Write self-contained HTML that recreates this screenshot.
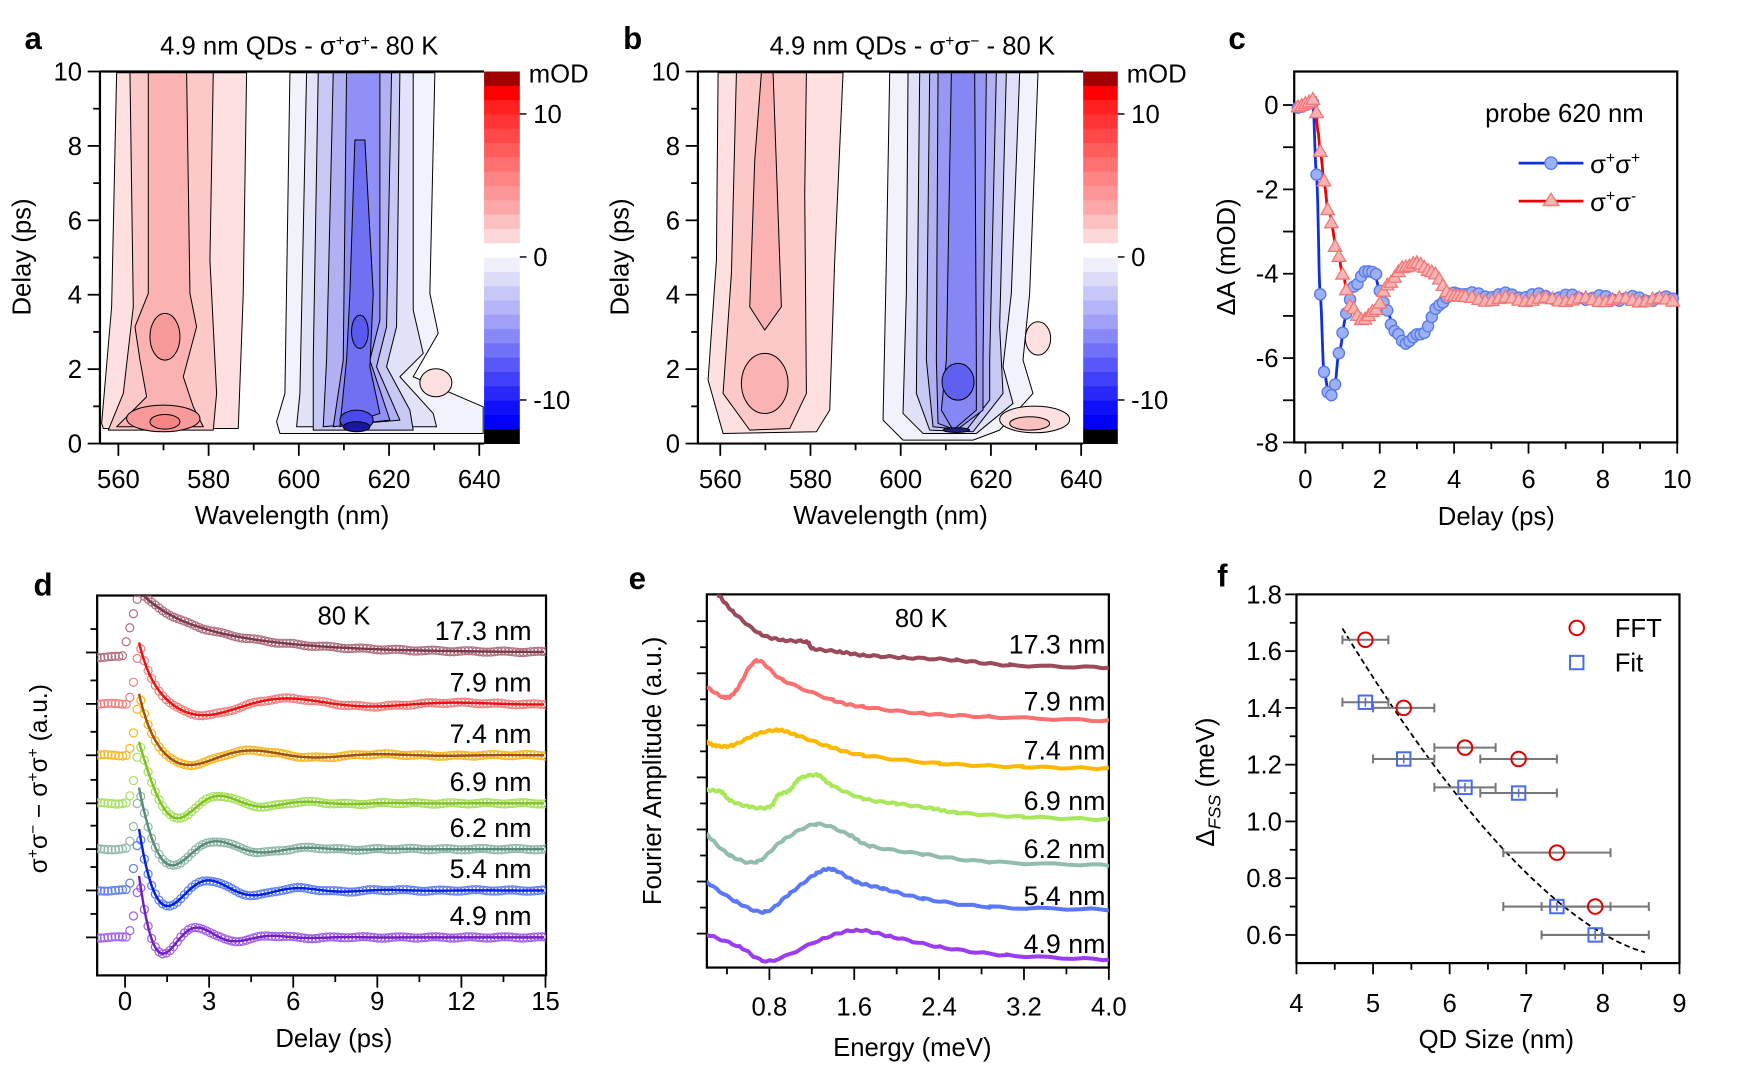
<!DOCTYPE html>
<html><head><meta charset="utf-8"><style>
html,body{margin:0;padding:0;background:#fff;}
svg{display:block;font-family:"Liberation Sans",Arial,sans-serif;}
</style></head><body>
<svg id="s" width="1742" height="1067" viewBox="0 0 1560 955" preserveAspectRatio="none" xmlns="http://www.w3.org/2000/svg">
<defs>
<clipPath id="ca"><rect x="89.5" y="64" width="344" height="333"/></clipPath>
<clipPath id="cb"><rect x="625" y="64" width="345" height="333"/></clipPath>
<clipPath id="cd"><rect x="87" y="533" width="402" height="340"/></clipPath>
<clipPath id="ce"><rect x="633" y="532" width="360" height="334"/></clipPath>
</defs>
<g id="root"></g>
</svg>
<script>
var out=[];
function P(s){out.push(s);}
var SC=0.29842;
function sh(d,f){return '<path d="'+d+'" fill="'+f+'" stroke="#000" stroke-width="3" stroke-linejoin="round"/>';}
function el(cx,cy,rx,ry,f){return '<ellipse cx="'+cx+'" cy="'+cy+'" rx="'+rx+'" ry="'+ry+'" fill="'+f+'" stroke="#000" stroke-width="3"/>';}
var A=[];
A.push(sh("M110,38 L500,38 L490,700 L475,1105 L70,1105 L65,1090 L95,740 Z","#fde0df"));
A.push(sh("M150,38 L400,38 L390,600 L410,1000 L400,1110 L85,1110 L130,1000 L160,740 Z","#fcc8c8"));
A.push(sh("M205,38 L320,38 L330,700 L350,800 L310,950 L340,1040 L370,1100 L110,1100 L200,1010 L180,900 L165,800 L205,700 Z","#fbb2b2"));
A.push(el(255,830,45,70,"#f99a9a"));
A.push(el(250,1075,110,40,"#f99a9a"));
A.push(el(255,1085,45,22,"#f58585"));
A.push(sh("M630,38 L1065,38 L1050,700 L1075,820 L1000,950 L1210,1040 L1210,1120 L600,1120 L590,1085 L615,1000 Z","#f2f2fc"));
A.push(sh("M680,38 L1000,38 L1000,750 L1030,880 L960,950 L1060,1060 L1070,1100 L650,1100 L660,1000 Z","#e2e2f8"));
A.push(sh("M715,38 L960,38 L950,800 L920,920 L990,1050 L1000,1110 L700,1110 L700,900 Z","#c8c8f4"));
A.push(sh("M760,38 L935,38 L920,800 L890,920 L960,1080 L730,1100 L740,900 Z","#b0b0f2"));
A.push(sh("M800,38 L900,38 L900,780 L870,900 L930,1080 L760,1100 L790,900 Z","#9090f6"));
A.push(sh("M825,240 L855,240 L880,700 L870,920 L900,1060 L780,1100 L800,900 L810,700 Z","#7070f2"));
A.push(el(840,815,25,50,"#5a5af0"));
A.push(el(830,1080,50,30,"#4a4ae8"));
A.push(el(830,1100,40,15,"#1818a0"));
A.push(el(1068,968,48,42,"#fde0df"));
P('<g clip-path="url(#ca)"><g transform="translate(71.62,53.72) scale('+SC+')">'+A.join('')+'</g></g>');
var B=[];
B.push(sh("M85,38 L460,38 L435,600 L420,1050 L380,1115 L100,1120 L55,960 L80,600 Z","#fde0df"));
B.push(sh("M140,38 L350,38 L345,400 L350,1000 L300,1105 L180,1110 L100,1000 L125,640 Z","#fcc8c8"));
B.push(sh("M215,38 L250,38 L270,600 L275,740 L225,810 L180,740 L195,300 Z","#fbb2b2"));
B.push(el(225,970,70,90,"#fbb2b2"));
B.push(sh("M600,38 L1045,38 L1020,700 L1000,900 L1030,1000 L930,1110 L850,1140 L640,1140 L580,1080 L590,600 Z","#f2f2fc"));
B.push(sh("M655,38 L990,38 L965,700 L940,920 L970,1030 L860,1120 L700,1120 L640,1060 L650,700 Z","#e0e0f8"));
B.push(sh("M690,38 L950,38 L930,800 L940,1000 L850,1115 L720,1110 L680,1000 Z","#c8c8f4"));
B.push(sh("M720,38 L920,38 L900,900 L900,1020 L830,1110 L730,1100 L710,900 Z","#b0b0f2"));
B.push(sh("M745,38 L890,38 L880,900 L880,1050 L800,1110 L745,1090 L740,900 Z","#9898f4"));
B.push(sh("M785,38 L855,38 L860,900 L860,1050 L790,1110 L755,1050 L770,900 Z","#8686f4"));
B.push(el(805,965,48,55,"#6060f0"));
B.push(el(800,1110,40,7,"#202080"));
B.push(el(1045,835,38,50,"#fde0df"));
B.push(el(1035,1078,105,40,"#fde0df"));
B.push(el(1020,1090,60,20,"#fbc0c0"));
P('<g clip-path="url(#cb)"><g transform="translate(617.7,53.72) scale('+SC+')">'+B.join('')+'</g></g>');

var cbc=["#a00000","#ff0000","#ff2020","#ff3535","#ff4848","#ff5c5c","#ff7070","#ff8484","#fc9696","#fca8a8","#fcc0c0","#fcd8d8","#ffffff","#f0f0fc","#dcdcf8","#c8c8f8","#b4b4f8","#a0a0f8","#8888f8","#7070f8","#5858f8","#4040f8","#2828f8","#1010f8","#0000f8","#000000"];
function cbar(x,w){
  var h=333/26;
  for(var i=0;i<26;i++)P('<rect x="'+x+'" y="'+(64+i*h)+'" width="'+w+'" height="'+(h+0.4)+'" fill="'+cbc[i]+'"/>');
  [[102,"10"],[230,"0"],[358,"-10"]].forEach(function(t){
    P('<line x1="'+(x+w)+'" y1="'+t[0]+'" x2="'+(x+w+6)+'" y2="'+t[0]+'" stroke="#000" stroke-width="1.3"/>');
    P('<text x="'+(x+w+12)+'" y="'+(t[0]+8)+'" font-size="23">'+t[1]+'</text>');
  });
  P('<text x="'+(x+w+8)+'" y="74" font-size="23">mOD</text>');
}
cbar(433.5,32);cbar(970,31);

function frame(x1,y1,x2,y2,lw){P('<rect x="'+x1+'" y="'+y1+'" width="'+(x2-x1)+'" height="'+(y2-y1)+'" fill="none" stroke="#000" stroke-width="'+(lw||2)+'"/>');}
function xt(x,y,len){P('<line x1="'+x+'" y1="'+y+'" x2="'+x+'" y2="'+(y+len)+'" stroke="#000" stroke-width="1.6"/>');}
function yt(x,y,len){P('<line x1="'+x+'" y1="'+y+'" x2="'+(x-len)+'" y2="'+y+'" stroke="#000" stroke-width="1.6"/>');}
function T(x,y,s,fs,anc,extra){P('<text x="'+x+'" y="'+y+'" font-size="'+fs+'" text-anchor="'+(anc||"start")+'" '+(extra||"")+'>'+s+'</text>');}

[[89.5,433.5,106,4.04,0],[625,970,645,4.04,1]].forEach(function(p){
  var L=p[0],R=p[1];
  P('<line x1="'+L+'" y1="64" x2="'+L+'" y2="397" stroke="#000" stroke-width="2"/>');
  P('<line x1="'+L+'" y1="397" x2="'+R+'" y2="397" stroke="#000" stroke-width="2"/>');
  P('<line x1="'+L+'" y1="64" x2="'+R+'" y2="64" stroke="#000" stroke-width="2"/>');
  for(var v=0;v<=10;v++){var y=397-v*33.3;yt(L,y,v%2==0?11:6);if(v%2==0)T(L-16,y+8,""+v,23,"end");}
  for(var w=550;w<=650;w+=10){var x=p[2]+(w-560)*p[3];if(x<L-1||x>R+1)continue;xt(x,397,(w%20==0)?11:6);if(w%20==0)T(x,437,""+w,23,"middle");}
  T((L+R)/2,469,"Wavelength (nm)",23,"middle");
  T(L-62,230,"Delay (ps)",23,"middle",'transform="rotate(-90 '+(L-62)+' 230)"');
});
T(22,44,"a",28,"start",'font-weight="bold"');
T(558,44,"b",28,"start",'font-weight="bold"');
T(268,49,'4.9 nm QDs - σ<tspan dy="-8" font-size="14">+</tspan><tspan dy="8">σ</tspan><tspan dy="-8" font-size="14">+</tspan><tspan dy="8">- 80 K</tspan>',23,"middle");
T(817,49,'4.9 nm QDs - σ<tspan dy="-8" font-size="14">+</tspan><tspan dy="8">σ</tspan><tspan dy="-8" font-size="14">−</tspan><tspan dy="8"> - 80 K</tspan>',23,"middle");

// Panel c
frame(1159,64,1502,396,2);
function cx(t){return 1169+t*33.3;} function cy(v){return 94+(-v)*37.75;}
for(var v=0;v>=-8;v--){var y=cy(v);yt(1159,y,10);if(v%2==0)T(1145,y+8,""+v,23,"end");}
for(var t=0;t<=10;t++){xt(cx(t),396,(t%2==0)?10:6);if(t%2==0)T(cx(t),437,""+t,23,"middle");}
T(1340,470,"Delay (ps)",23,"middle");
T(1106,230,"ΔA (mOD)",23,"middle",'transform="rotate(-90 1106 230)"');
T(1100,44,"c",28,"start",'font-weight="bold"');
T(1330,109,"probe 620 nm",23);
function interp(pts,t){for(var i=0;i<pts.length-1;i++){if(t<=pts[i+1][0]){var a=pts[i],b=pts[i+1];var f=(t-a[0])/(b[0]-a[0]);var g=(1-Math.cos(f*Math.PI))/2;return a[1]+(b[1]-a[1])*g;}}return pts[pts.length-1][1];}
var blue=[[-0.3,0],[0.2,0],[0.3,-1.7],[0.4,-4.5],[0.5,-6.3],[0.65,-6.9],[0.8,-6.6],[0.9,-5.9],[1.1,-5],[1.3,-4.3],[1.6,-3.9],[1.85,-4.0],[2.1,-4.7],[2.4,-5.3],[2.7,-5.7],[3.1,-5.4],[3.6,-4.8],[4.0,-4.4],[4.4,-4.5],[10,-4.6]];
var red=[[-0.3,0],[0.15,0.05],[0.27,0.15],[0.33,-0.6],[0.42,-1.2],[0.5,-1.8],[0.62,-2.5],[0.85,-3.4],[1.0,-4.0],[1.2,-4.8],[1.5,-5.1],[1.9,-4.8],[2.2,-4.3],[2.7,-3.8],[2.95,-3.7],[3.4,-4.0],[4.0,-4.5],[4.4,-4.6],[10,-4.62]];
function polyC(pts,col,w){var d=[];for(var t=-0.25;t<=10;t+=0.02){var v=interp(pts,t)+0.04*Math.sin(t*9.1);d.push(cx(t).toFixed(1)+","+cy(v).toFixed(1));}P('<polyline points="'+d.join(" ")+'" fill="none" stroke="'+col+'" stroke-width="'+w+'"/>');}
polyC(blue,"#1030e0",2.5);polyC(red,"#f00000",2.5);
var bt=[];for(var t=-0.2;t<0.3;t+=0.1)bt.push(t);for(var t=0.3;t<4.3;t+=0.1)bt.push(t);for(var t=4.3;t<=10;t+=0.18)bt.push(t);
bt.forEach(function(t){var v=interp(blue,t)+0.06*Math.sin(t*7.3);P('<circle cx="'+cx(t).toFixed(1)+'" cy="'+cy(v).toFixed(1)+'" r="5" fill="#9cb0f4" stroke="#5a78ec" stroke-width="1.2"/>');});
bt.forEach(function(t){var v=interp(red,t)+0.05*Math.sin(t*6.1);var x=cx(t),y=cy(v);P('<path d="M'+x.toFixed(1)+','+(y-6).toFixed(1)+' L'+(x+6).toFixed(1)+','+(y+4.5).toFixed(1)+' L'+(x-6).toFixed(1)+','+(y+4.5).toFixed(1)+' Z" fill="#f8b4b4" stroke="#f07878" stroke-width="1.2"/>');});
P('<line x1="1360" y1="146" x2="1418" y2="146" stroke="#1030e0" stroke-width="2.5"/><circle cx="1389" cy="146" r="5.5" fill="#9cb0f4" stroke="#5a78ec" stroke-width="1.2"/>');
P('<line x1="1360" y1="180" x2="1418" y2="180" stroke="#f00000" stroke-width="2.5"/><path d="M1389,173 L1396,184 L1382,184 Z" fill="#f8b4b4" stroke="#f07878" stroke-width="1.2"/>');
T(1424,155,'σ<tspan dy="-9" font-size="14">+</tspan><tspan dy="9">σ</tspan><tspan dy="-9" font-size="14">+</tspan>',23);
T(1424,189,'σ<tspan dy="-9" font-size="14">+</tspan><tspan dy="9">σ</tspan><tspan dy="-9" font-size="14">-</tspan>',23);

// Panel d
frame(87,533,489,873,2);
function dx(t){return 112+t*25.1;}
for(var t=-1.5;t<=15;t+=1.5){var x=dx(t);if(x<87)continue;var maj=(Math.abs(t%3)<0.01);xt(x,873,maj?11:6);if(maj)T(x,904,""+t,23,"middle");}
var dtr=[
 {b:584,mk:"#b07080",ln:"#7a3848",lab:"17.3 nm",type:1},
 {b:630,mk:"#f08080",ln:"#e81010",lab:"7.9 nm",tmin:3.0,T:6,A:10,tau:4},
 {b:676,mk:"#f8b820",ln:"#a05010",lab:"7.4 nm",tmin:2.4,T:4.6,A:9,tau:3},
 {b:719,mk:"#a8e060",ln:"#80c020",lab:"6.9 nm",tmin:1.95,T:3.1,A:14,tau:2},
 {b:760,mk:"#90b8a8",ln:"#5a8a78",lab:"6.2 nm",tmin:1.75,T:3.3,A:16,tau:1.9},
 {b:797,mk:"#6080f0",ln:"#0020e0",lab:"5.4 nm",tmin:1.5,T:3.2,A:18,tau:2.2},
 {b:839,mk:"#a060e8",ln:"#7020c0",lab:"4.9 nm",tmin:1.35,T:2.7,A:20,tau:1.5}];
function dsig(p,t){var t0=0.5,Pk=55;
  if(p.type==1){if(t<-0.1)return -4;if(t<t0)return -4+(Pk+4)*(t+0.1)/(t0+0.1);return Pk*(0.75*Math.exp(-(t-t0)/3.2)+0.25*Math.exp(-(t-t0)/1));}
  var osc=function(tt){return -p.A*Math.exp(-(tt-p.tmin)/p.tau)*Math.cos(2*Math.PI*(tt-p.tmin)/p.T);};
  if(t<0)return 0;if(t<t0)return Pk*(t/t0)*(t/t0);
  var D=Pk-osc(t0);return osc(t)+D*Math.exp(-(t-t0)/0.42);}
dtr.forEach(function(p,i){
  yt(87,p.b,10);yt(87,p.b-21,6);
  var pts=[],ms=[];
  for(var t=-1;t<=15;t+=0.13){var v=dsig(p,t);ms.push([dx(t),p.b-v+0.6*Math.sin(t*5+i)]);}
  for(var t=0.5;t<=15;t+=0.05){pts.push(dx(t).toFixed(1)+","+(p.b-dsig(p,t)).toFixed(1));}
  var g='<g clip-path="url(#cd)">';
  ms.forEach(function(m){g+='<circle cx="'+m[0].toFixed(1)+'" cy="'+m[1].toFixed(1)+'" r="3.6" fill="none" stroke="'+p.mk+'" stroke-width="1.1"/>';});
  g+='<polyline points="'+pts.join(" ")+'" fill="none" stroke="'+p.ln+'" stroke-width="2.2"/></g>';
  P(g);
  T(476,p.b-11,p.lab,24,"end");
});
T(308,559,"80 K",23,"middle");
T(299,937,"Delay (ps)",23,"middle");
T(30,533,"d",28,"start",'font-weight="bold"');
T(42,697,'σ<tspan dy="-8" font-size="14">+</tspan><tspan dy="8">σ</tspan><tspan dy="-8" font-size="14">−</tspan><tspan dy="8"> − σ</tspan><tspan dy="-8" font-size="14">+</tspan><tspan dy="8">σ</tspan><tspan dy="-8" font-size="14">+</tspan><tspan dy="8"> (a.u.)</tspan>',22,"middle",'transform="rotate(-90 42 697)"');

// Panel e
frame(633,532,993,866,2);
function ex(E){return 613+E*95;}
for(var E=0.4;E<=4.01;E+=0.4){var x=ex(E);var maj=Math.abs((E/0.8)-Math.round(E/0.8))<0.01;xt(x,866,maj?11:6);if(maj)T(x,909,E.toFixed(1),23,"middle");}
for(var k=0;k<13;k++){yt(633,556+k*23.3,k%2==0?9:6);}
function cz(p){return [(690+p[0]/3)/1.117,(580+p[1]/3)/1.117];}
var ecur=[
 {c:"#9a4a5a",lab:"17.3 nm",ly:585,p:[[85,42],[130,95],[210,160],[280,180],[350,185],[370,205],[450,215],[520,225],[640,232],[800,240],[960,255],[1258,262]]},
 {c:"#f87070",lab:"7.9 nm",ly:636,p:[[50,320],[105,352],[140,330],[200,242],[280,300],[430,360],[520,380],[700,400],[900,410],[1258,422]]},
 {c:"#fcb800",lab:"7.4 nm",ly:680,p:[[50,485],[80,497],[130,495],[200,462],[265,450],[320,465],[420,500],[520,525],[750,550],[1000,560],[1258,565]]},
 {c:"#a8e85a",lab:"6.9 nm",ly:725,p:[[50,630],[95,635],[120,660],[180,680],[240,680],[265,645],[300,630],[330,595],[385,585],[425,615],[520,655],[620,670],[730,685],[800,697],[1000,710],[1258,718]]},
 {c:"#92bcac",lab:"6.2 nm",ly:768,p:[[50,762],[120,825],[200,845],[280,780],[380,732],[480,765],[540,797],[700,822],[900,845],[1258,855]]},
 {c:"#5a78f8",lab:"5.4 nm",ly:810,p:[[50,905],[140,965],[225,995],[300,940],[380,880],[430,868],[500,905],[580,925],[700,955],[900,980],[1258,988]]},
 {c:"#9a3cf0",lab:"4.9 nm",ly:853,p:[[50,1062],[150,1100],[240,1142],[400,1075],[500,1050],[600,1068],[750,1100],[950,1125],[1258,1138]]}];
function cr(pts){var r=[];for(var i=0;i<pts.length-1;i++){var p0=pts[Math.max(0,i-1)],p1=pts[i],p2=pts[i+1],p3=pts[Math.min(pts.length-1,i+2)];for(var s=0;s<1;s+=0.1){var s2=s*s,s3=s2*s;var f=function(a,b,c,d){return 0.5*((2*b)+(-a+c)*s+(2*a-5*b+4*c-d)*s2+(-a+3*b-3*c+d)*s3);};r.push([f(p0[0],p1[0],p2[0],p3[0]),f(p0[1],p1[1],p2[1],p3[1])]);}}r.push(pts[pts.length-1]);return r;}
ecur.forEach(function(c,i){var q=cr(c.p.map(cz));var s=q.map(function(a,j){return a[0].toFixed(1)+","+(a[1]+0.8*Math.sin(j*1.7+i)).toFixed(1);}).join(" ");
 P('<g clip-path="url(#ce)"><polyline points="'+s+'" fill="none" stroke="'+c.c+'" stroke-width="3.6" stroke-linejoin="round"/></g>');
 T(990,c.ly,c.lab,24,"end");});
T(825,561,"80 K",23,"middle");
T(817,945,"Energy (meV)",23,"middle");
T(563,527,"e",28,"start",'font-weight="bold"');
T(592,690,"Fourier Amplitude (a.u.)",23,"middle",'transform="rotate(-90 592 690)"');

// Panel f
frame(1161,532,1504,862,2);
function fx(s){return 1161+(s-4)*68.6;} function fy(v){return 532+(1.8-v)*254;}
for(var s=4;s<=9.01;s+=0.5){var x=fx(s);var maj=Math.abs(s-Math.round(s))<0.01;xt(x,862,maj?10:6);if(maj)T(x,906,""+Math.round(s),23,"middle");}
for(var v=0.5;v<=1.81;v+=0.1){var y=fy(v);if(y>862)continue;var k=Math.round(v*10);var maj=(k%2==0);yt(1161,y,maj?10:6);if(maj)T(1148,y+8,v.toFixed(1),23,"end");}
var dc=[];for(var s=4.6;s<=8.56;s+=0.05){var v=0.53+1.15*Math.pow((8.75-s)/4.15,1.6);dc.push(fx(s).toFixed(1)+","+fy(v).toFixed(1));}
P('<polyline points="'+dc.join(" ")+'" fill="none" stroke="#000" stroke-width="1.6" stroke-dasharray="5,3"/>');
function eb(y,x1,x2){P('<g stroke="#777" stroke-width="1.8"><line x1="'+x1+'" y1="'+y+'" x2="'+x2+'" y2="'+y+'"/><line x1="'+x1+'" y1="'+(y-4)+'" x2="'+x1+'" y2="'+(y+4)+'"/><line x1="'+x2+'" y1="'+(y-4)+'" x2="'+x2+'" y2="'+(y+4)+'"/></g>');}
var fft=[[4.9,1.64,0.3],[5.4,1.40,0.4],[6.2,1.26,0.4],[6.9,1.22,0.5],[7.4,0.89,0.7],[7.9,0.70,0.7]];
var fit=[[4.9,1.42,0.3],[5.4,1.22,0.4],[6.2,1.12,0.4],[6.9,1.10,0.5],[7.4,0.70,0.7],[7.9,0.60,0.7]];
fft.forEach(function(d){eb(fy(d[1]),fx(d[0]-d[2]),fx(d[0]+d[2]));});
fit.forEach(function(d){eb(fy(d[1]),fx(d[0]-d[2]),fx(d[0]+d[2]));});
fft.forEach(function(d){P('<circle cx="'+fx(d[0])+'" cy="'+fy(d[1])+'" r="6.5" fill="none" stroke="#e00000" stroke-width="1.8"/>');});
fit.forEach(function(d){var x=fx(d[0]),y=fy(d[1]);P('<rect x="'+(x-6)+'" y="'+(y-6)+'" width="12" height="12" fill="none" stroke="#4a6af0" stroke-width="1.8"/><line x1="'+x+'" y1="'+(y-4)+'" x2="'+x+'" y2="'+(y+4)+'" stroke="#4a6af0" stroke-width="1.4"/>');});
P('<circle cx="1412" cy="562" r="6.5" fill="none" stroke="#e00000" stroke-width="1.8"/>');
P('<rect x="1406" y="587" width="12" height="12" fill="none" stroke="#4a6af0" stroke-width="1.8"/>');
T(1446,570,"FFT",23);T(1446,601,"Fit",23);
T(1340,938,"QD Size (nm)",23,"middle");
T(1090,525,"f",28,"start",'font-weight="bold"');
T(1087,700,'Δ<tspan dy="6" font-size="16" font-style="italic">FSS</tspan><tspan dy="-6"> (meV)</tspan>',23,"middle",'transform="rotate(-90 1087 700)"');

document.getElementById("root").innerHTML=out.join("");
</script>
</body></html>
